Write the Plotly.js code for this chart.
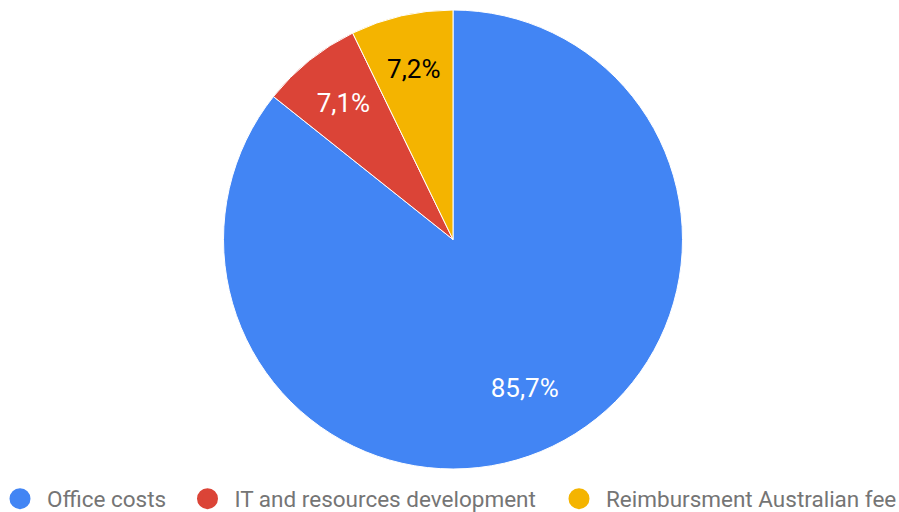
<!DOCTYPE html>
<html>
<head>
<meta charset="utf-8">
<script src="https://cdn.plot.ly/plotly-3.0.1.min.js"></script>
<style>html,body{margin:0;padding:0;background:#fff;}#chart{width:899px;height:512px;}</style>
</head>
<body>
<div id="chart"></div>
<script>
const categories = ["Office costs", "IT and resources development", "Reimbursment Australian fee"];
const values = [85.7, 7.1, 7.2];
const colors = ["#4285F4", "#DB4437", "#F4B400"];
const textColors = ["#FFFFFF", "#FFFFFF", "#000000"];
const legendIds = ["legend", "legend2", "legend3"];
const legendX = [0, 180.5 / 899, 552 / 899];
const legendIndent = [-7, 0, 0];

// main pie: the slices
const pieTrace = {
  type: "pie",
  labels: categories,
  values: values,
  sort: false,
  direction: "clockwise",
  rotation: 0,
  marker: {colors: colors, line: {color: "#FFFFFF", width: 1}},
  textinfo: "none",
  hoverinfo: "label+percent",
  showlegend: false,
  domain: {x: [0, 1], y: [0, 1]}
};

// transparent overlay pie with the same data: carries the percentage labels
const labelTrace = {
  type: "pie",
  labels: categories,
  values: values,
  sort: false,
  direction: "clockwise",
  rotation: 0,
  hole: 0.543,
  marker: {colors: ["rgba(0,0,0,0)", "rgba(0,0,0,0)", "rgba(0,0,0,0)"], line: {width: 0}},
  texttemplate: "%{percent:.1%}",
  textposition: "inside",
  insidetextorientation: "horizontal",
  insidetextfont: {family: "Roboto, sans-serif", size: 26, color: textColors},
  hoverinfo: "skip",
  showlegend: false,
  domain: {x: [0, 1], y: [0.03375, 0.96625]}
};

const legendTraces = categories.map((c, i) => ({
  type: "scatter",
  mode: "markers",
  x: [null], y: [null],
  name: c,
  legend: legendIds[i],
  marker: {color: colors[i], size: 16, symbol: "circle", line: {color: colors[i], width: 5}},
  showlegend: true,
  hoverinfo: "skip"
}));

const legendBase = {
  orientation: "h",
  xref: "container", yref: "container",
  xanchor: "left", yanchor: "middle",
  y: 13 / 512,
  font: {family: "Roboto, sans-serif", size: 22.5, color: "#757575"},
  itemsizing: "trace",
  itemwidth: 44,
  bgcolor: "rgba(0,0,0,0)"
};

const layout = {
  width: 899, height: 512,
  margin: {l: 7, r: 0, t: 10, b: 43},
  paper_bgcolor: "#FFFFFF",
  plot_bgcolor: "#FFFFFF",
  separators: ",.",
  showlegend: true,
  xaxis: {visible: false},
  yaxis: {visible: false},
  legend: Object.assign({}, legendBase, {x: legendX[0], indentation: legendIndent[0]}),
  legend2: Object.assign({}, legendBase, {x: legendX[1], indentation: legendIndent[1]}),
  legend3: Object.assign({}, legendBase, {x: legendX[2], indentation: legendIndent[2]})
};

Plotly.newPlot("chart", [pieTrace, labelTrace].concat(legendTraces), layout, {displayModeBar: false, staticPlot: true});
</script>
</body>
</html>
